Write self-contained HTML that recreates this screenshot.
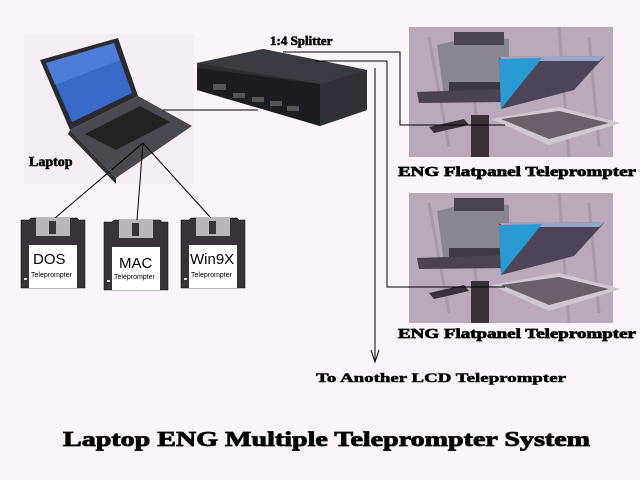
<!DOCTYPE html>
<html><head><meta charset="utf-8"><style>
html,body{margin:0;padding:0;background:#fbf5fb;}
svg{display:block;}
text.h{font-family:"Liberation Serif",serif;font-weight:bold;fill:#000;stroke:#000;}
text.s{font-family:"Liberation Sans",sans-serif;font-weight:normal;fill:#000;}
</style></head><body>
<svg width="640" height="480" viewBox="0 0 640 480" xmlns="http://www.w3.org/2000/svg">
<rect width="640" height="480" fill="#fbf5fb"/>
<defs>
<g id="prompt">
  <rect x="0" y="0" width="204" height="130" fill="#b9a9b9"/>
  <path d="M20 10 L40 120 M60 5 L70 125 M150 0 L160 130 M180 10 L190 120" stroke="#a898a8" stroke-width="3"/>
  <rect x="62" y="88" width="18" height="42" fill="#3a3038"/>
  <polygon points="28,18 70,8 100,12 100,70 35,70" fill="#8a8690"/>
  <polygon points="45,5 95,5 95,18 45,18" fill="#4a4450"/>
  <polygon points="40,55 95,55 95,72 40,72" fill="#3e3842"/>
  <polygon points="8,65 95,62 95,75 10,76" fill="#4a424c"/>
  <polygon points="90,30 196,29 165,63 92,82" fill="#4e4458"/>
  <polygon points="90,30 196,29 190,34 95,34" fill="#9aa6c8"/>
  <polygon points="90,32 133,31 92,82" fill="#2a9ad2"/>
  <polygon points="82,92 150,80 212,96 140,118" fill="#d0c8d0"/>
  <polygon points="92,92 150,84 200,96 140,112" fill="#6a5f6a"/>
  <polygon points="20,100 55,92 60,98 25,106" fill="#3a3038"/>
</g>
<g id="floppy">
  <polygon points="0,2 8,2 10,0 56,0 58,2 64,2 64,70 0,70" fill="#3a3238" stroke="#000" stroke-width="0.5"/>
  <rect x="15" y="0" width="34" height="18" fill="#bdb5bd"/>
  <rect x="28" y="3" width="7" height="13" fill="#3a3238"/>
  <rect x="8" y="27" width="48" height="43" fill="#fff"/>
  <rect x="3" y="60" width="3" height="2" fill="#ddd"/>
</g>
</defs>

<rect x="24" y="34" width="170" height="150" fill="#f5eff5"/>
<polygon points="40,60 118,38 138,96 70,130" fill="#2a2a30"/>
<polygon points="46,63 114,43 132,93 72,122" fill="#3a6ac8"/>
<polygon points="46,63 114,43 120,60 55,85" fill="#5a8ae0" opacity="0.6"/>
<polygon points="70,130 138,96 192,126 116,178" fill="#4a4850"/>
<polygon points="85,134 140,106 170,122 116,150" fill="#222"/>
<polygon points="70,130 116,178 116,184 68,134" fill="#333"/>
<text class="h" x="29" y="166" font-size="14" stroke-width="0.6">Laptop</text>

<polygon points="197,63 263,49 367,70 367,110 320,126 197,90" fill="#2c2c32"/>
<polygon points="197,63 263,49 367,70 320,84" fill="#3a3a42"/>
<polygon points="197,68 320,84 320,126 197,90" fill="#1c1c22"/>
<polygon points="320,84 367,70 367,110 320,126" fill="#303038"/>
<g fill="#555"><rect x="213" y="84" width="13" height="6"/><rect x="233" y="93" width="12" height="5"/><rect x="252" y="97" width="12" height="5"/><rect x="270" y="101" width="12" height="5"/><rect x="287" y="106" width="12" height="5"/></g>
<text class="h" x="270" y="45" font-size="13" stroke-width="0.6">1:4 Splitter</text>

<use href="#floppy" x="21" y="218"/>
<use href="#floppy" x="104" y="220"/>
<use href="#floppy" x="181" y="218"/>
<text class="s" x="33" y="264" font-size="15">DOS</text>
<text class="s" x="31" y="277" font-size="7">Teleprompter</text>
<text class="s" x="119" y="268" font-size="15">MAC</text>
<text class="s" x="114" y="279" font-size="7">Teleprompter</text>
<text class="s" x="190" y="264" font-size="15">Win9X</text>
<text class="s" x="191" y="277" font-size="7">Teleprompter</text>

<g stroke="#000" stroke-width="1" fill="none">
<line x1="143" y1="143" x2="55" y2="218"/>
<line x1="143" y1="143" x2="137" y2="220"/>
<line x1="143" y1="143" x2="211" y2="218"/>
<polyline points="163,110 258,110"/>
<polyline points="283,52 400,52 400,125 505,125"/>
<polyline points="315,61 387,61 387,287 505,287"/>
<polyline points="375,68 375,362"/>
<polyline points="371,350 375,362 379,350"/>
</g>

<use href="#prompt" x="409" y="27"/>
<use href="#prompt" x="409" y="193"/>
<g stroke="#000" fill="none"><line x1="400" y1="125" x2="505" y2="125"/><line x1="387" y1="287" x2="505" y2="287"/></g>

<text class="h" x="398" y="176" font-size="14" stroke-width="0.7" textLength="238" lengthAdjust="spacingAndGlyphs">ENG Flatpanel Teleprompter</text>
<text class="h" x="398" y="338" font-size="14" stroke-width="0.7" textLength="238" lengthAdjust="spacingAndGlyphs">ENG Flatpanel Teleprompter</text>
<text class="h" x="316" y="382" font-size="13" stroke-width="0.5" textLength="250" lengthAdjust="spacingAndGlyphs">To Another LCD Teleprompter</text>
<text class="h" x="63" y="446" font-size="21" stroke-width="0.8" textLength="527" lengthAdjust="spacingAndGlyphs">Laptop ENG Multiple Teleprompter System</text>
</svg>
</body></html>
